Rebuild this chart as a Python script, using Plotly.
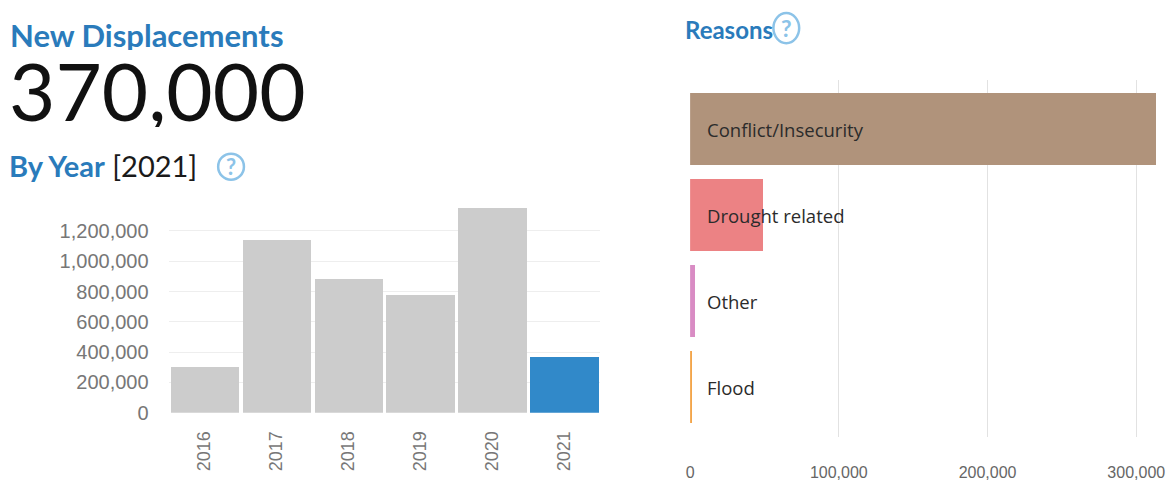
import plotly.graph_objects as go

# ---- data ----
years = ["2016", "2017", "2018", "2019", "2020", "2021"]
year_values = [305000, 1140000, 882000, 782000, 1352000, 370000]
year_colors = ["#cccccc", "#cccccc", "#cccccc", "#cccccc", "#cccccc", "#3189c9"]

reasons = ["Conflict/Insecurity", "Drought related", "Other", "Flood"]
reason_values = [313000, 49000, 3500, 1500]
reason_colors = ["#b0937b", "#ec8284", "#d98cc4", "#f3a54a"]

left_ticks = [0, 200000, 400000, 600000, 800000, 1000000, 1200000]
right_ticks = [0, 100000, 200000, 300000]

W, H = 1176, 487
def px(x):
    return x / W
def py(y):
    return 1 - y / H

BLUE = "#2a7bbb"
SANS = "Liberation Sans, Arial"

fig = go.Figure()

fig.add_trace(go.Bar(
    x=years, y=year_values, marker=dict(color=year_colors, line=dict(width=0)),
    width=0.95, xaxis="x", yaxis="y", hoverinfo="x+y", showlegend=False,
))

fig.add_trace(go.Bar(
    x=reason_values, y=reasons, orientation="h",
    marker=dict(color=reason_colors, line=dict(width=0)),
    width=0.835, xaxis="x2", yaxis="y2", hoverinfo="x+y", showlegend=False,
))

fig.update_layout(
    width=W, height=500, autosize=False,
    margin=dict(l=0, r=0, t=0, b=0),
    paper_bgcolor="white", plot_bgcolor="white",
    xaxis=dict(
        domain=[px(166), px(601)], type="category",
        tickangle=-90, tickfont=dict(family=SANS, size=18, color="#777"),
        showgrid=False, showline=False, zeroline=False, ticks="",
        ticklabelstandoff=14,
    ),
    yaxis=dict(
        domain=[py(411), py(199.8)], range=[0, 1400000],
        tickvals=left_ticks, tickformat=",",
        tickfont=dict(family=SANS, size=20, color="#777"),
        showgrid=True, gridcolor="#eeeeee", gridwidth=1,
        zeroline=False, showline=False, ticks="", ticklabelstandoff=19,
    ),
    xaxis2=dict(
        domain=[px(692), px(1165)], range=[0, 315333], anchor="y2",
        tickvals=right_ticks, tickformat=",",
        tickfont=dict(family=SANS, size=16, color="#666"),
        showgrid=True, gridcolor="#e2e2e2", gridwidth=1,
        zeroline=False, showline=False, ticks="", ticklabelstandoff=24,
    ),
    yaxis2=dict(
        domain=[py(435), py(80)], range=[3.57, -0.57], anchor="x2",
        type="category", showticklabels=False, showgrid=False,
        zeroline=False, showline=False, ticks="",
    ),
    bargap=0,
)

annotations = [
    dict(text="<b>New Displacements</b>", x=px(4), y=py(35), xref="paper", yref="paper",
         xanchor="left", yanchor="middle", showarrow=False, height=30,
         font=dict(family="Lato", size=31, color=BLUE)),
    dict(text="370,000", x=px(3), y=py(90), xref="paper", yref="paper",
         xanchor="left", yanchor="middle", showarrow=False, height=74,
         font=dict(family="Lato", size=80, color="#111111")),
    dict(text="<b>By Year</b> <span style='color:#1a1a1a'>[2021]</span>", x=px(3), y=py(165),
         xref="paper", yref="paper", xanchor="left", yanchor="middle", showarrow=False,
         font=dict(family="Lato", size=29, color=BLUE)),
    dict(text="<b>Reasons</b>", x=px(685), y=py(29), xref="paper", yref="paper",
         xanchor="left", yanchor="middle", showarrow=False,
         font=dict(family="Lato", size=24, color=BLUE)),
    dict(text="<b>?</b>", x=px(229), y=py(166), xref="paper", yref="paper",
         xanchor="center", yanchor="middle", showarrow=False,
         font=dict(family="Lato", size=22, color="#8cc3e8")),
    dict(text="<b>?</b>", x=px(789), y=py(28), xref="paper", yref="paper",
         xanchor="center", yanchor="middle", showarrow=False,
         font=dict(family="Lato", size=23, color="#8cc3e8")),
]
for name in reasons:
    annotations.append(dict(
        text=name, x=0, y=name, xref="x2", yref="y2", xanchor="left", yanchor="middle",
        xshift=15, showarrow=False,
        font=dict(family="Open Sans", size=18.5, color="#2b2b2b"),
    ))
fig.update_layout(annotations=annotations)

fig.add_shape(type="circle", xref="paper", yref="paper",
              x0=px(216), x1=px(242), y0=py(179), y1=py(153),
              line=dict(color="#8cc3e8", width=2.5))
fig.add_shape(type="circle", xref="paper", yref="paper",
              x0=px(776), x1=px(802), y0=py(43), y1=py(13),
              line=dict(color="#8cc3e8", width=2.5))

fig.write_html("out.html", config={"displayModeBar": False},
               post_script="document.body.style.margin='0px';document.body.style.overflow='hidden';")
